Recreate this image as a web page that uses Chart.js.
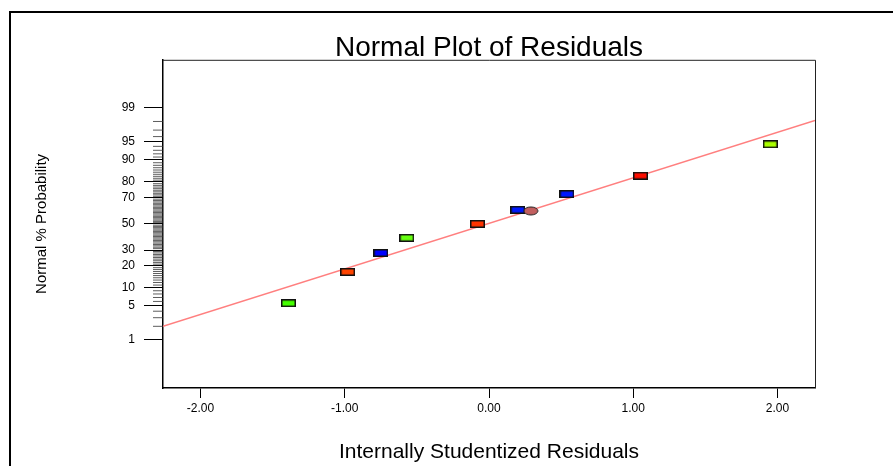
<!DOCTYPE html>
<html>
<head>
<meta charset="utf-8">
<script src="https://cdn.jsdelivr.net/npm/chart.js@4.4.1/dist/chart.umd.min.js"></script>
<style>
  html, body { margin: 0; padding: 0; background: #fff; overflow: hidden; }
  #wrap { position: relative; width: 893px; height: 466px; }
  #frame { position: absolute; left: 9px; top: 11px; right: -20px; bottom: -20px;
           border-left: 2px solid #000; border-top: 2px solid #000; pointer-events: none; }
</style>
</head>
<body>
<div id="wrap">
  <canvas id="chart" width="893" height="466"></canvas>
  <div id="frame"></div>
</div>
<script>
// values
const residuals = [-1.39, -0.98, -0.75, -0.57, -0.08, 0.20, 0.54, 1.05, 1.95];
const probabilities = [5.6, 16.8, 28.0, 39.0, 50.0, 61.1, 72.5, 83.3, 94.5];
const pointColors = ["#44ff00", "#ff4400", "#0000ff", "#66ff11", "#ff3300", "#0018ff", "#0018ff", "#ff0e00", "#aaff00"];

const markedResidual = [0.29];
const markedProbability = [60.3];

const fitX = [-2.26, 2.26];
const fitP = [2.0, 98.1];

const yTickLabels = [1, 5, 10, 20, 30, 50, 70, 80, 90, 95, 99];
const xTickValues = [-2, -1, 0, 1, 2];
const xRange = [-2.26, 2.26];
const pRange = [0.05, 99.95];

// inverse normal cdf (Acklam)
function probit(p) {
    const a = [-3.969683028665376e+01, 2.209460984245205e+02, -2.759285104469687e+02, 1.383577518672690e+02, -3.066479806614716e+01, 2.506628277459239e+00];
    const b = [-5.447609879822406e+01, 1.615858368580409e+02, -1.556989798598866e+02, 6.680131188771972e+01, -1.328068155288572e+01];
    const c = [-7.784894002430293e-03, -3.223964580411365e-01, -2.400758277161838e+00, -2.549732539343734e+00, 4.374664141464968e+00, 2.938163982698783e+00];
    const d = [7.784695709041462e-03, 3.224671290700398e-01, 2.445134137142996e+00, 3.754408661907416e+00];
    const pl = 0.02425;
    let q, r;
    if (p < pl) {
        q = Math.sqrt(-2 * Math.log(p));
        return (((((c[0] * q + c[1]) * q + c[2]) * q + c[3]) * q + c[4]) * q + c[5]) / ((((d[0] * q + d[1]) * q + d[2]) * q + d[3]) * q + 1);
    }
    if (p <= 1 - pl) {
        q = p - 0.5;
        r = q * q;
        return (((((a[0] * r + a[1]) * r + a[2]) * r + a[3]) * r + a[4]) * r + a[5]) * q / (((((b[0] * r + b[1]) * r + b[2]) * r + b[3]) * r + b[4]) * r + 1);
    }
    q = Math.sqrt(-2 * Math.log(1 - p));
    return -(((((c[0] * q + c[1]) * q + c[2]) * q + c[3]) * q + c[4]) * q + c[5]) / ((((d[0] * q + d[1]) * q + d[2]) * q + d[3]) * q + 1);
}

// small marker images
function boxMarker(color) {
    const cv = document.createElement("canvas");
    cv.width = 15; cv.height = 8;
    const g = cv.getContext("2d");
    g.fillStyle = color;
    g.fillRect(0, 0, 15, 8);
    g.strokeStyle = "#111";
    g.lineWidth = 1.5;
    g.strokeRect(0.75, 0.75, 13.5, 6.5);
    return cv;
}
function ovalMarker(color) {
    const cv = document.createElement("canvas");
    cv.width = 16; cv.height = 10;
    const g = cv.getContext("2d");
    g.beginPath();
    g.ellipse(8, 5, 7, 4, 0, 0, Math.PI * 2);
    g.fillStyle = color;
    g.fill();
    g.strokeStyle = "#222";
    g.lineWidth = 1;
    g.stroke();
    return cv;
}

const toPoints = (xs, ps) => xs.map((x, i) => ({ x: x, y: probit(ps[i] / 100) }));

// plot box (top/right edges) and minor probability ticks
const probFrame = {
    id: "probFrame",
    afterDraw(chart) {
        const { ctx, chartArea } = chart;
        const y = chart.scales.y;
        ctx.save();
        ctx.strokeStyle = "#222";
        ctx.lineWidth = 1;
        ctx.beginPath();
        ctx.moveTo(chartArea.left, chartArea.top + 0.5);
        ctx.lineTo(chartArea.right + 0.5, chartArea.top + 0.5);
        ctx.lineTo(chartArea.right + 0.5, chartArea.bottom);
        ctx.stroke();
        ctx.strokeStyle = "#333";
        ctx.lineWidth = 0.8;
        for (let p = 1; p <= 99; p++) {
            if (yTickLabels.includes(p)) continue;
            const py = y.getPixelForValue(probit(p / 100));
            ctx.beginPath();
            ctx.moveTo(chartArea.left - 10, py);
            ctx.lineTo(chartArea.left, py);
            ctx.stroke();
        }
        ctx.restore();
    }
};

const ctx = document.getElementById("chart").getContext("2d");

new Chart(ctx, {
    type: "scatter",
    data: {
        datasets: [
            {
                label: "Marked run",
                data: toPoints(markedResidual, markedProbability),
                pointStyle: ovalMarker("#c25f5f"),
                order: 0
            },
            {
                label: "Residuals",
                data: toPoints(residuals, probabilities),
                pointStyle: pointColors.map(boxMarker),
                order: 1
            },
            {
                label: "Normal line",
                data: toPoints(fitX, fitP),
                showLine: true,
                borderColor: "#ff7f7f",
                borderWidth: 1.5,
                pointRadius: 0,
                order: 2
            }
        ]
    },
    options: {
        responsive: false,
        animation: false,
        layout: { padding: { left: 0, right: 78, top: 0, bottom: 0 } },
        plugins: {
            legend: { display: false },
            tooltip: { enabled: false },
            title: {
                display: true,
                fullSize: false,
                text: "Normal Plot of Residuals",
                color: "#000",
                font: { family: "'Liberation Sans', Arial, sans-serif", size: 28, weight: "normal", lineHeight: 0.85 },
                padding: { top: 36, bottom: 0 }
            }
        },
        scales: {
            x: {
                type: "linear",
                min: xRange[0],
                max: xRange[1],
                afterBuildTicks: (scale) => { scale.ticks = xTickValues.map(v => ({ value: v })); },
                afterFit: (scale) => { scale.height = 78; },
                ticks: {
                    color: "#000",
                    padding: 3,
                    maxRotation: 0,
                    font: { family: "'Liberation Sans', Arial, sans-serif", size: 12 },
                    callback: (v) => Number(v).toFixed(2)
                },
                grid: { drawOnChartArea: false, tickLength: 10, tickColor: "#000", tickWidth: 1 },
                border: { color: "#000", width: 1.5 },
                title: {
                    display: true,
                    text: "Internally Studentized Residuals",
                    color: "#000",
                    font: { family: "'Liberation Sans', Arial, sans-serif", size: 21 },
                    padding: { top: 0, bottom: 1 }
                }
            },
            y: {
                type: "linear",
                min: probit(pRange[0] / 100),
                max: probit(pRange[1] / 100),
                afterBuildTicks: (scale) => { scale.ticks = yTickLabels.map(p => ({ value: probit(p / 100) })); },
                afterFit: (scale) => { scale.width = 163; },
                ticks: {
                    color: "#000",
                    padding: 9,
                    font: { family: "'Liberation Sans', Arial, sans-serif", size: 12 },
                    callback: (v, i) => String(yTickLabels[i])
                },
                grid: { drawOnChartArea: false, tickLength: 19, tickColor: "#000", tickWidth: 1 },
                border: { color: "#000", width: 1.5 },
                title: {
                    display: true,
                    text: "Normal % Probability",
                    color: "#000",
                    font: { family: "'Liberation Sans', Arial, sans-serif", size: 15 },
                    padding: { top: 33, bottom: 0 }
                }
            }
        }
    },
    plugins: [probFrame]
});
</script>
</body>
</html>
